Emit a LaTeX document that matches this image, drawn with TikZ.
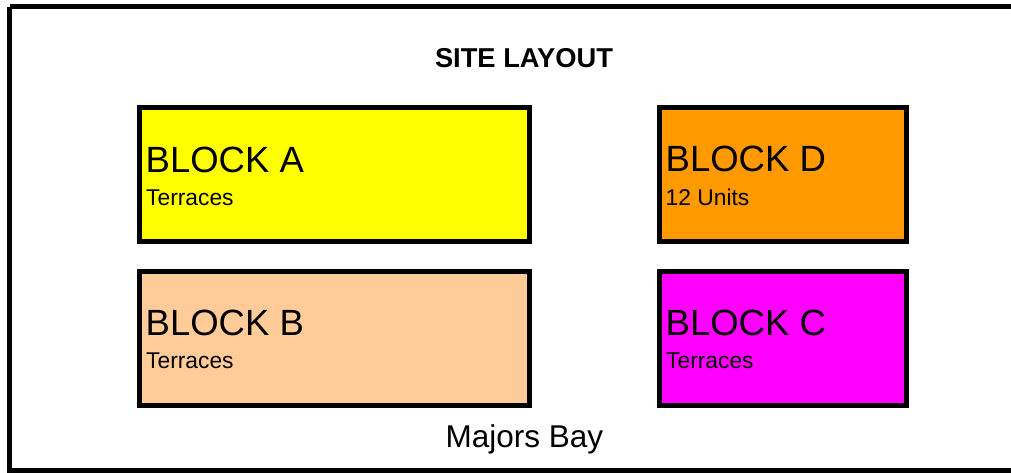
\documentclass[tikz,border=0pt]{standalone}
\usepackage{fontspec}
\setmainfont{Liberation Sans}
\definecolor{cA}{HTML}{FFFF00}
\definecolor{cB}{HTML}{FFCC99}
\definecolor{cC}{HTML}{FF00FF}
\definecolor{cD}{HTML}{FF9900}
\begin{document}
\begin{tikzpicture}[x=1pt,y=-1pt,
  blockbox/.style={draw=black, line width=5pt, anchor=north west, inner sep=0pt, outer sep=0pt},
  bigtxt/.style={anchor=base west, inner sep=0pt, font=\fontsize{36.5}{40}\selectfont},
  smalltxt/.style={anchor=base west, inner sep=0pt, font=\fontsize{22.8}{26}\selectfont}]
\useasboundingbox (0,0) rectangle (1011,472);
\begin{scope}
\clip (0,0) rectangle (1011,472);
\draw[line width=5pt] (9.5,6.5) -- (1030,6.5) (9.5,6.5) -- (9.5,470) -- (1030,470);
\end{scope}
\node[anchor=base, inner sep=0pt, font=\bfseries\fontsize{27.3}{32}\selectfont] (title) at (524,67.5) {SITE LAYOUT};
\node[blockbox, fill=cA, minimum width=390pt, minimum height=133.5pt] (A) at (139.5,107.5) {};
\node[blockbox, fill=cD, minimum width=247pt, minimum height=133.5pt] (D) at (659.5,107.5) {};
\node[blockbox, fill=cB, minimum width=390pt, minimum height=134pt] (B) at (139.5,271.5) {};
\node[blockbox, fill=cC, minimum width=247pt, minimum height=134pt] (C) at (659.5,271.5) {};
\node[bigtxt] (At) at (145.5,172) {BLOCK A};
\node[smalltxt] (As) at (146,205) {Terraces};
\node[bigtxt] (Dt) at (665.5,171) {BLOCK D};
\node[smalltxt] (Ds) at (665.5,205) {12 Units};
\node[bigtxt] (Bt) at (145.5,335.5) {BLOCK B};
\node[smalltxt] (Bs) at (146,368.5) {Terraces};
\node[bigtxt] (Ct) at (665.5,335.5) {BLOCK C};
\node[smalltxt] (Cs) at (666,368.5) {Terraces};
\node[anchor=base, inner sep=0pt, font=\fontsize{31.5}{36}\selectfont] (bay) at (524.5,447) {Majors Bay};
\end{tikzpicture}
\end{document}
